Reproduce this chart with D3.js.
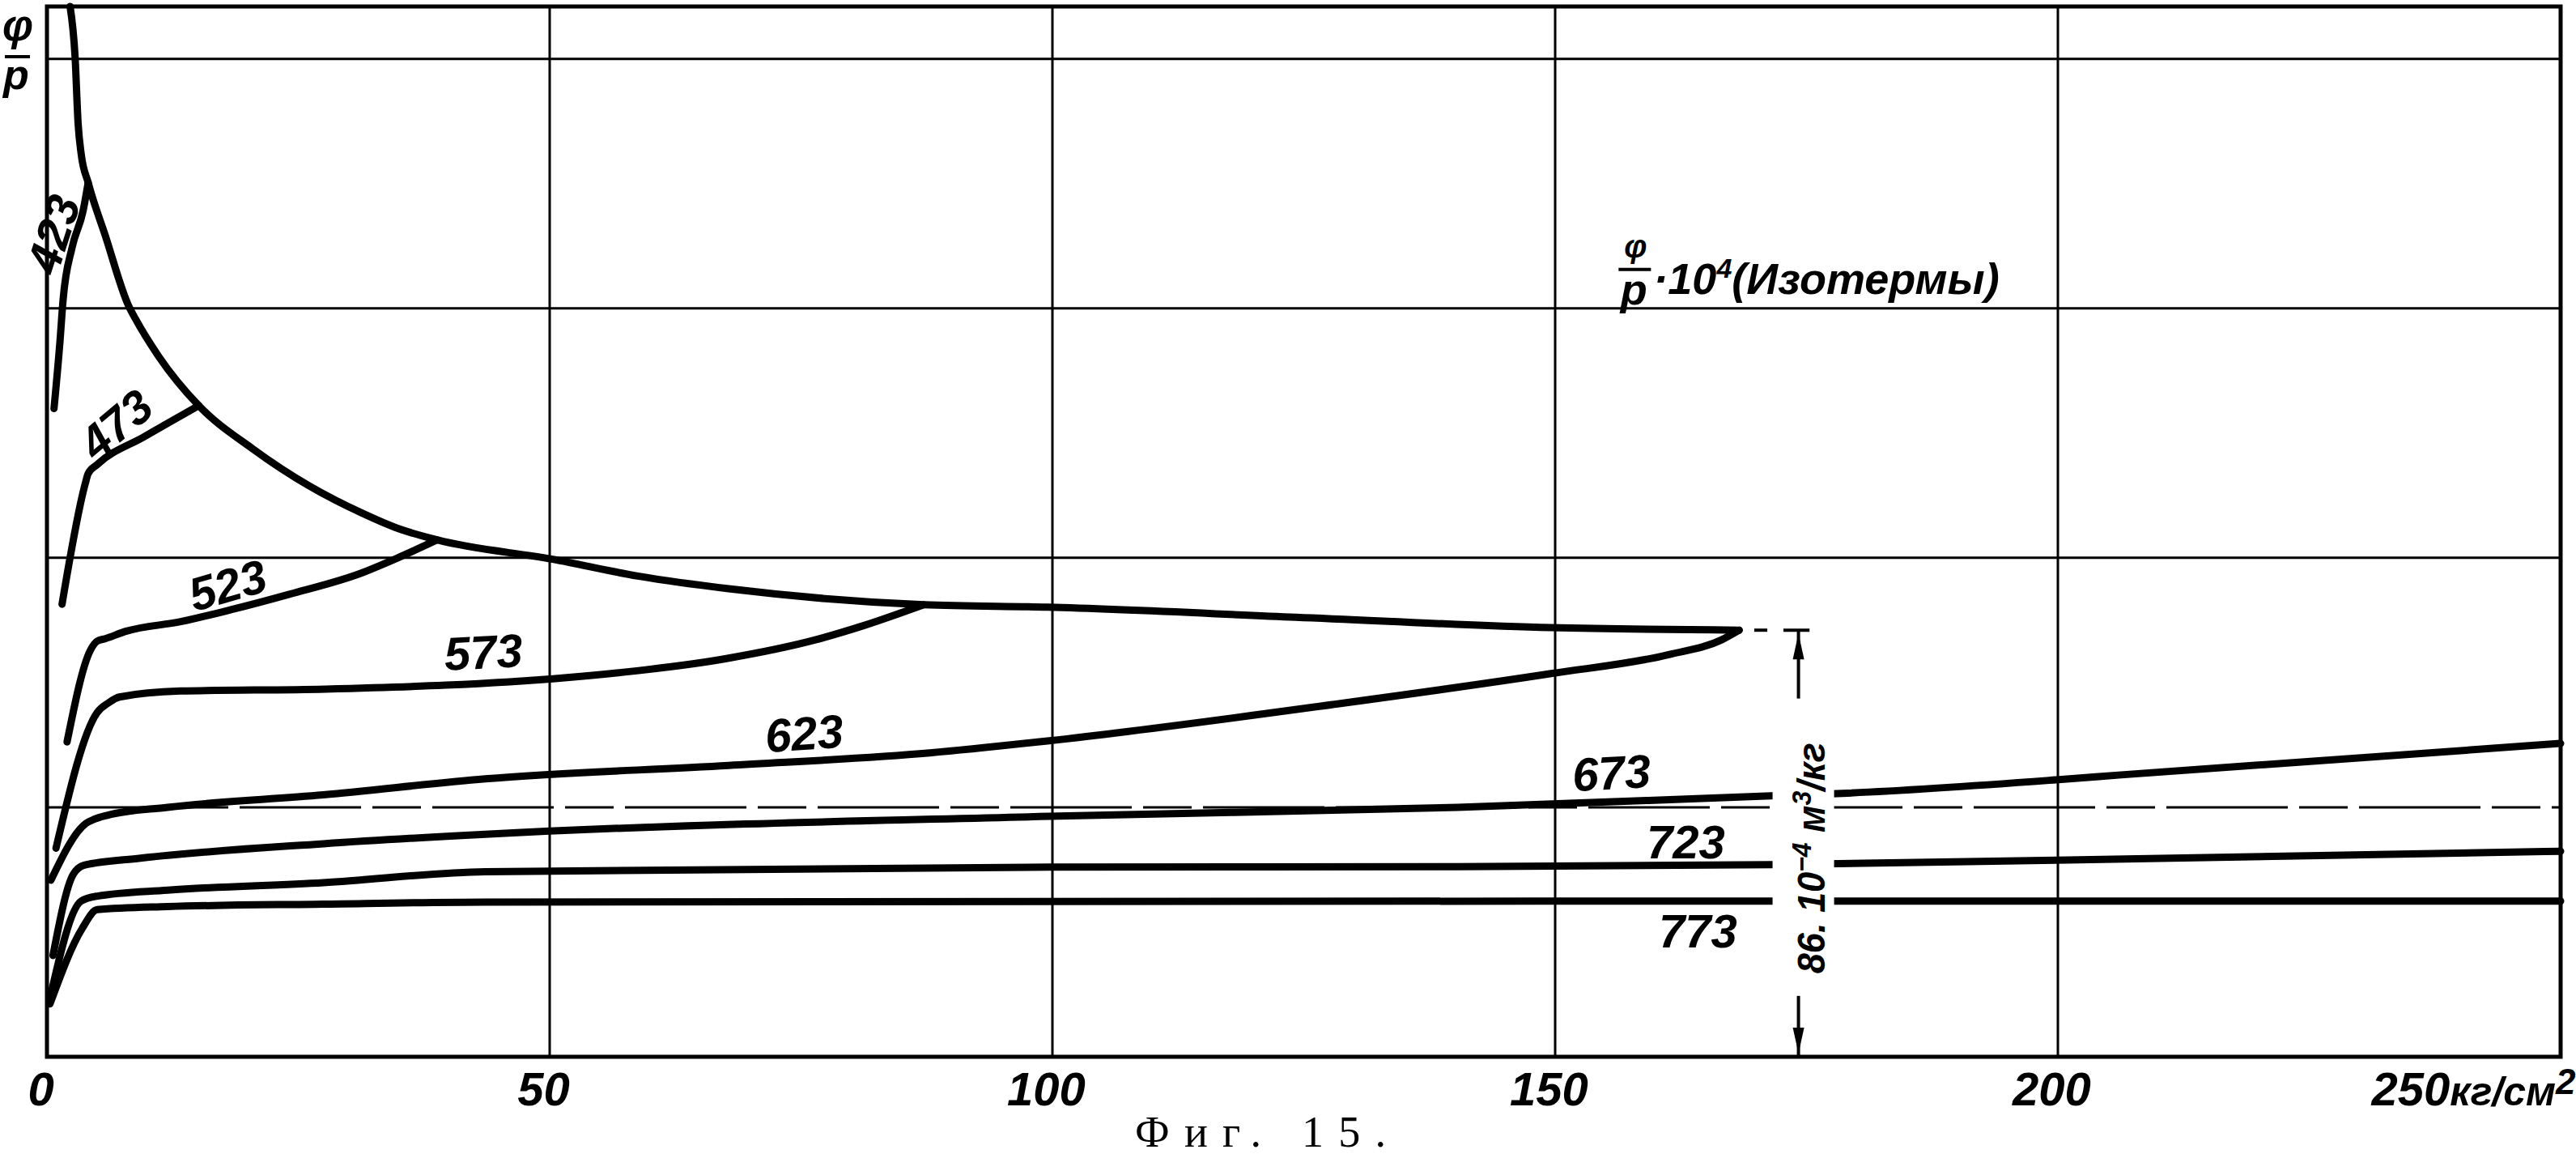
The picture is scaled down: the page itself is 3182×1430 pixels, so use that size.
<!DOCTYPE html>
<html>
<head>
<meta charset="utf-8">
<script src="https://cdn.jsdelivr.net/npm/d3@7"></script>
<style>
  body { margin: 0; background: #fff; }
  svg { display: block; }
  .it { font-family: "Liberation Sans", Arial, sans-serif; font-weight: bold; font-style: italic; fill: #000; }
  .cap { font-family: "Liberation Serif", "Times New Roman", serif; fill: #000; }
</style>
</head>
<body>
<svg id="chart" width="3182" height="1430"></svg>
<script>
"use strict";

// pressure, kg/cm2
var xTicks = [0, 50, 100, 150, 200, 250];
// φ/p · 10^4, unlabelled grid
var yGrid = [50, 100, 150, 200];
var yTop = 210.5;

// saturation boundary [p, φ/p·10^4]
var saturation = [[2.3,210.5],[2.8,200.3],[3.1,187.0],[3.4,181.0],[4.1,175.2],[5.8,164.6],[8.1,150.6],
  [8.8,147.9],[11.1,140.4],[15.1,130.5],[20.5,121.8],[26.1,114.4],[31.3,109.0],[34.9,105.9],[38.8,103.6],
  [50.3,99.7],[58.9,96.3],[67.8,93.8],[87.2,90.6],[99.5,90.1],[124.2,88.1],[149.6,86.0],[168.3,85.5]];

// isotherms, K
var temps = [423, 473, 523, 573, 623, 673, 723, 773];
var iso423 = [[0.7,129.9],[1.3,143.5],[1.6,151.6],[2.5,162.2],[3.6,169.6],[4.1,175.2]];
var iso473 = [[1.5,90.7],[3.8,114.8],[4.1,116.9],[5.0,118.7],[9.7,124.3],[15.1,130.5]];
var iso523 = [[2.0,63.1],[4.3,81.4],[5.0,83.3],[5.8,83.8],[7.9,85.3],[13.3,87.2],[18.3,89.6],[24.1,92.7],
  [31.2,96.9],[34.9,100.0],[38.8,103.6]];
var iso573 = [[0.9,41.8],[5.0,69.0],[6.1,70.9],[7.2,72.1],[13.3,73.3],[27.7,73.7],[51.7,76.0],[59.7,77.6],
  [67.8,79.9],[76.5,83.6],[81.2,86.4],[87.2,90.6]];
var iso623 = [[0.4,35.4],[3.9,46.8],[4.7,47.6],[6.0,48.4],[12.0,50.0],[27.5,52.5],[43.6,55.7],[67.8,58.4],
  [87.8,60.9],[99.5,63.3],[127.9,70.6],[149.6,76.8],[161.3,80.6],[166.6,83.6],[168.3,85.5]];
var iso673 = [[0.6,20.3],[2.6,36.5],[3.7,38.4],[9.3,39.8],[27.5,42.7],[43.6,44.6],[99.7,48.2],[140.3,50.0],
  [171.5,52.3],[178.6,52.8],[199.8,55.5],[206.3,56.5],[250,62.8]];
var iso723 = [[0.3,11.7],[3.4,31.2],[5.0,32.2],[12.0,33.4],[27.5,34.9],[43.6,37.1],[99.7,38.0],[140.3,38.1],
  [171.5,38.5],[199.8,39.4],[250,41.2]];
var iso773 = [[0.3,10.6],[3.5,25.7],[5.0,29.5],[12.0,30.1],[27.5,30.6],[43.6,31.0],[148.3,31.2],[250,31.2]];

// critical point volume marked by the dimension line, 10^-4 m3/kg
var critical = [168.3, 85.5];

var series = [iso423, iso473, iso523, iso573, iso623, iso673, iso723, iso773];

// where the isotherm numbers sit (data units) and their tilt
var labelAt = [[0.6,164.9,-72],[6.84,126.8,-40],[17.95,94.6,-16],[43.4,81.2,-3],
  [75.3,64.9,-4],[155.6,57.0,-3],[163.0,43.2,0],[164.2,25.3,0]];

var svg = d3.select("#chart");
var x = d3.scaleLinear().domain([0, 250]).range([58, 3163]);
var y = d3.scaleLinear().domain([0, yTop]).range([1305, 8]);

// grid
svg.append("g").selectAll("line").data(xTicks.slice(1, -1)).enter().append("line")
  .attr("x1", d => x(d)).attr("x2", d => x(d))
  .attr("y1", y(yTop)).attr("y2", y(0))
  .attr("stroke", "#000").attr("stroke-width", 3);

svg.append("g").selectAll("line").data(yGrid).enter().append("line")
  .attr("x1", x(0)).attr("x2", x(250))
  .attr("y1", d => y(d)).attr("y2", d => y(d))
  .attr("stroke", "#000").attr("stroke-width", 3)
  .attr("stroke-dasharray", d => d === 50 ? "150,14,60,14" : null);

svg.append("rect")
  .attr("x", x(0)).attr("y", y(yTop))
  .attr("width", x(250) - x(0)).attr("height", y(0) - y(yTop))
  .attr("fill", "none").attr("stroke", "#000").attr("stroke-width", 5);

// curves
var line = d3.line()
  .x(d => x(d[0])).y(d => y(d[1]))
  .curve(d3.curveMonotoneX);

svg.append("path").datum(saturation)
  .attr("d", line).attr("fill", "none")
  .attr("stroke", "#000").attr("stroke-width", 9).attr("stroke-linecap", "round");

svg.append("g").selectAll("path").data(series).enter().append("path")
  .attr("d", line).attr("fill", "none")
  .attr("stroke", "#000").attr("stroke-width", 9)
  .attr("stroke-linecap", "round").attr("stroke-linejoin", "round");

svg.append("g").selectAll("text").data(temps).enter().append("text")
  .attr("class", "it").attr("font-size", 58)
  .attr("text-anchor", "middle").attr("dy", "0.36em")
  .attr("transform", (d, i) => "translate(" + x(labelAt[i][0]) + "," + y(labelAt[i][1]) + ") rotate(" + labelAt[i][2] + ")")
  .text(d => d);

// dimension line 86·10^-4 m3/kg at the critical point
var dimX = x(174.2);
var dim = svg.append("g");
dim.append("rect")
  .attr("x", dimX - 32).attr("y", y(71.5))
  .attr("width", 76).attr("height", y(12.2) - y(71.5))
  .attr("fill", "#fff");
dim.append("line")
  .attr("x1", x(169.8)).attr("x2", x(171.1)).attr("y1", y(critical[1])).attr("y2", y(critical[1]))
  .attr("stroke", "#000").attr("stroke-width", 4);
dim.append("line")
  .attr("x1", x(172.7)).attr("x2", x(175.3)).attr("y1", y(critical[1])).attr("y2", y(critical[1]))
  .attr("stroke", "#000").attr("stroke-width", 4);
dim.append("line")
  .attr("x1", dimX).attr("x2", dimX).attr("y1", y(critical[1])).attr("y2", y(71.8))
  .attr("stroke", "#000").attr("stroke-width", 4);
dim.append("line")
  .attr("x1", dimX).attr("x2", dimX).attr("y1", y(12.2)).attr("y2", y(0))
  .attr("stroke", "#000").attr("stroke-width", 4);
var yc = y(critical[1]);
dim.append("path")
  .attr("d", "M" + dimX + "," + (yc + 4) + "L" + (dimX - 7) + "," + (yc + 36) + "L" + (dimX + 7) + "," + (yc + 36) + "Z")
  .attr("fill", "#000");
dim.append("path")
  .attr("d", "M" + dimX + "," + (y(0) - 4) + "L" + (dimX - 7) + "," + (y(0) - 36) + "L" + (dimX + 7) + "," + (y(0) - 36) + "Z")
  .attr("fill", "#000");

var dt = dim.append("text").attr("class", "it").attr("font-size", 48)
  .attr("text-anchor", "middle").attr("dy", "0.36em")
  .attr("transform", "translate(" + x(175.4) + "," + y(39.8) + ") rotate(-90)")
  .attr("textLength", 285).attr("lengthAdjust", "spacingAndGlyphs");
dt.append("tspan").text("86. 10");
dt.append("tspan").attr("font-size", 34).attr("dy", -17).text("\u22124");
dt.append("tspan").attr("dy", 17).text(" м");
dt.append("tspan").attr("font-size", 34).attr("dy", -17).text("3");
dt.append("tspan").attr("dy", 17).text("/кг");

// x axis labels
var xAxis = d3.axisBottom(x).tickValues(xTicks).tickSize(0).tickFormat(d3.format("d"));
var gx = svg.append("g").attr("transform", "translate(0," + y(0) + ")").call(xAxis);
gx.select(".domain").remove();
gx.selectAll("text")
  .attr("class", "it").attr("font-size", 58).attr("fill", "#000")
  .attr("y", 60).attr("dy", null).attr("dx", -8);
var last = gx.selectAll(".tick").filter(d => d === 250).select("text")
  .attr("text-anchor", "end").attr("dx", 18).text(null);
last.append("tspan").text("250");
last.append("tspan").attr("font-size", 50).text("кг/см");
last.append("tspan").attr("font-size", 44).attr("dy", -14).text("2");

// y axis label (fraction)
var yl = svg.append("text").attr("class", "it").attr("text-anchor", "middle");
yl.append("tspan").attr("font-size", 54).attr("x", 22).attr("y", 50).text("φ");
yl.append("tspan").attr("font-size", 52).attr("x", 20).attr("y", 110).text("p");
svg.append("line").attr("x1", 6).attr("x2", 37).attr("y1", 70).attr("y2", 70)
  .attr("stroke", "#000").attr("stroke-width", 4);

// isotherm heading
var hx = x(158.0), hy = y(157.8);
var hf = svg.append("text").attr("class", "it").attr("text-anchor", "middle");
hf.append("tspan").attr("font-size", 40).attr("x", hx).attr("y", hy - 15).text("φ");
hf.append("tspan").attr("font-size", 54).attr("x", hx - 2).attr("y", hy + 43).text("p");
svg.append("line").attr("x1", hx - 21).attr("x2", hx + 19).attr("y1", hy).attr("y2", hy)
  .attr("stroke", "#000").attr("stroke-width", 4);
var ht = svg.append("text").attr("class", "it").attr("font-size", 54)
  .attr("x", hx + 22).attr("y", hy + 30);
ht.append("tspan").text("·10");
ht.append("tspan").attr("font-size", 34).attr("dy", -20).text("4");
ht.append("tspan").attr("dy", 20).text("(Изотермы)");

// caption
svg.append("text").attr("class", "cap").attr("font-size", 54)
  .attr("x", 1557).attr("y", 1416).attr("text-anchor", "middle")
  .attr("textLength", 310).attr("lengthAdjust", "spacing")
  .text("Фиг. 15.");
</script>
</body>
</html>
